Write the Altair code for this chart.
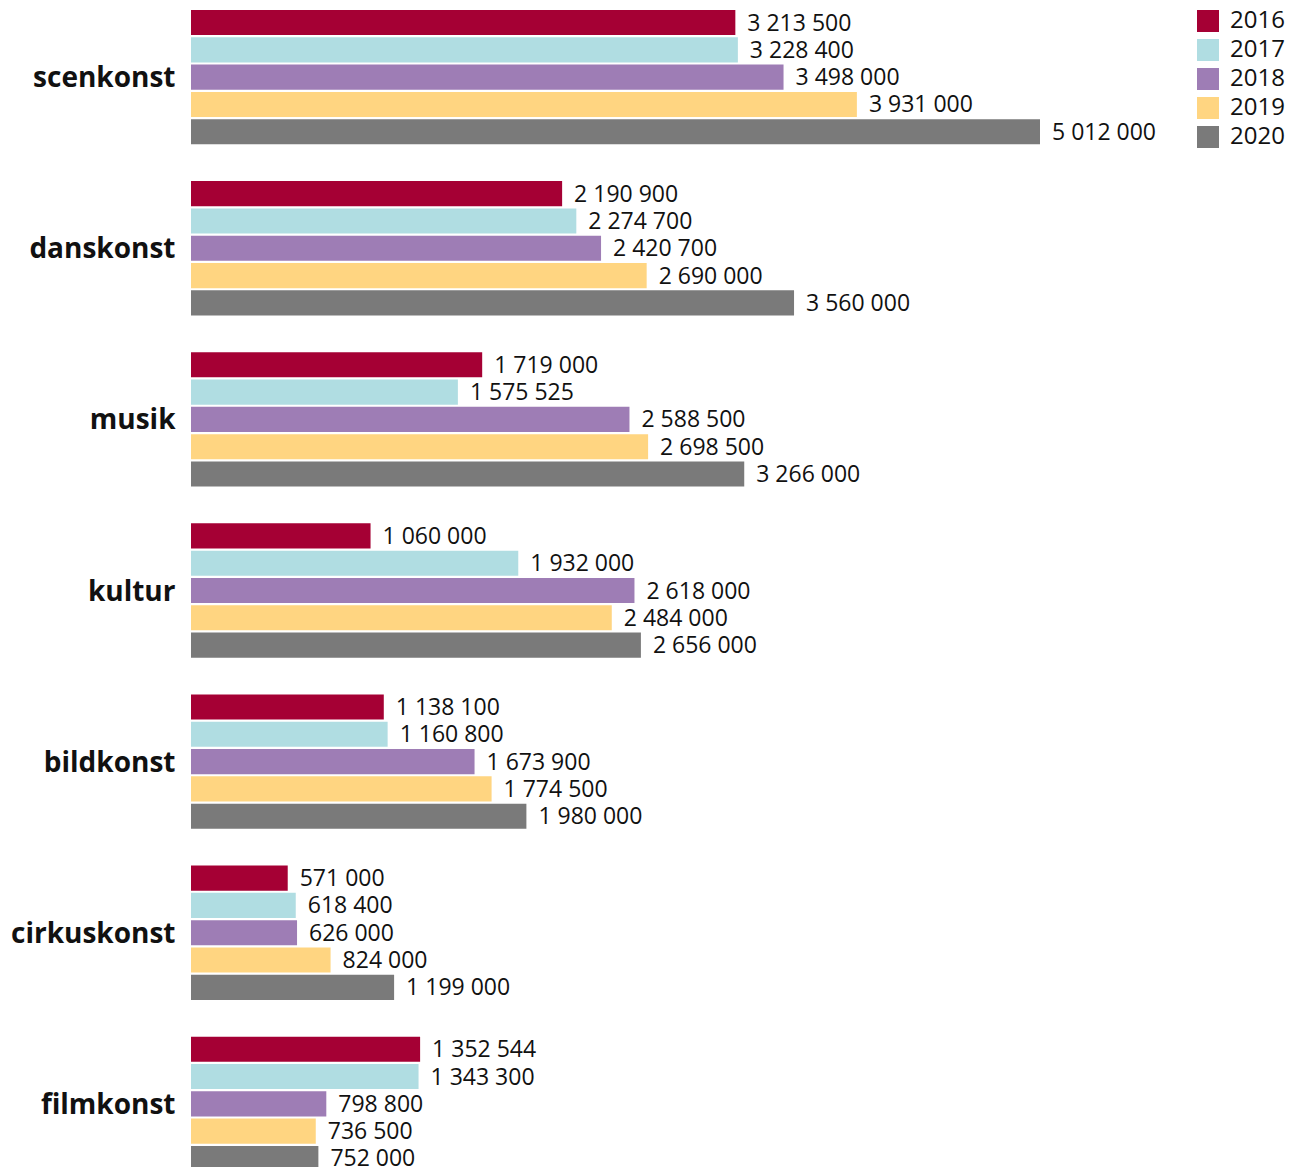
import altair as alt
import pandas as pd

categories = ["scenkonst", "danskonst", "musik", "kultur", "bildkonst", "cirkuskonst", "filmkonst"]
years = ["2016", "2017", "2018", "2019", "2020"]
values = {
    "2016": [3213500, 2190900, 1719000, 1060000, 1138100, 571000, 1352544],
    "2017": [3228400, 2274700, 1575525, 1932000, 1160800, 618400, 1343300],
    "2018": [3498000, 2420700, 2588500, 2618000, 1673900, 626000, 798800],
    "2019": [3931000, 2690000, 2698500, 2484000, 1774500, 824000, 736500],
    "2020": [5012000, 3560000, 3266000, 2656000, 1980000, 1199000, 752000],
}
colors = ["#A50034", "#B0DDE2", "#9E7DB5", "#FFD581", "#7A7A7A"]

rows = []
for y in years:
    for c, v in zip(categories, values[y]):
        rows.append({"kategori": c, "år": y, "värde": v,
                     "etikett": f"{v:,}".replace(",", " ")})
df = pd.DataFrame(rows)

FONT = "Open Sans"

base = alt.Chart(df).encode(
    y=alt.Y("kategori:N", sort=categories, title=None,
            scale=alt.Scale(paddingInner=0.215, paddingOuter=0),
            axis=alt.Axis(domain=False, ticks=False, labelFontSize=28,
                          labelFontWeight="bold", labelColor="#111",
                          labelPadding=16, labelFont=FONT, labelOffset=2)),
    yOffset=alt.YOffset("år:N", sort=years,
                        scale=alt.Scale(paddingInner=0.08, paddingOuter=0)),
)

bars = base.mark_bar().encode(
    x=alt.X("värde:Q", axis=None, scale=alt.Scale(zero=True, nice=False)),
    color=alt.Color("år:N", sort=years,
                    scale=alt.Scale(domain=years, range=colors),
                    legend=alt.Legend(title=None, orient="none", legendX=1005, legendY=-1,
                                      symbolType="square", symbolSize=484,
                                      symbolStrokeWidth=0, labelFontSize=24,
                                      labelFont=FONT, labelColor="#111",
                                      labelOffset=10, rowPadding=5)),
)

labels = base.mark_text(align="left", baseline="middle", dx=12, dy=1, fontSize=23,
                        font=FONT, color="#111").encode(
    x=alt.X("värde:Q"),
    text="etikett:N",
)

chart = (bars + labels).properties(
    width=849, height=1161,
    padding={"left": 183, "top": 2, "right": 250, "bottom": 0},
    autosize=alt.AutoSizeParams(type="none"),
).configure_view(stroke=None)

chart.save("out.html", embed_options={"renderer": "svg", "actions": False})
